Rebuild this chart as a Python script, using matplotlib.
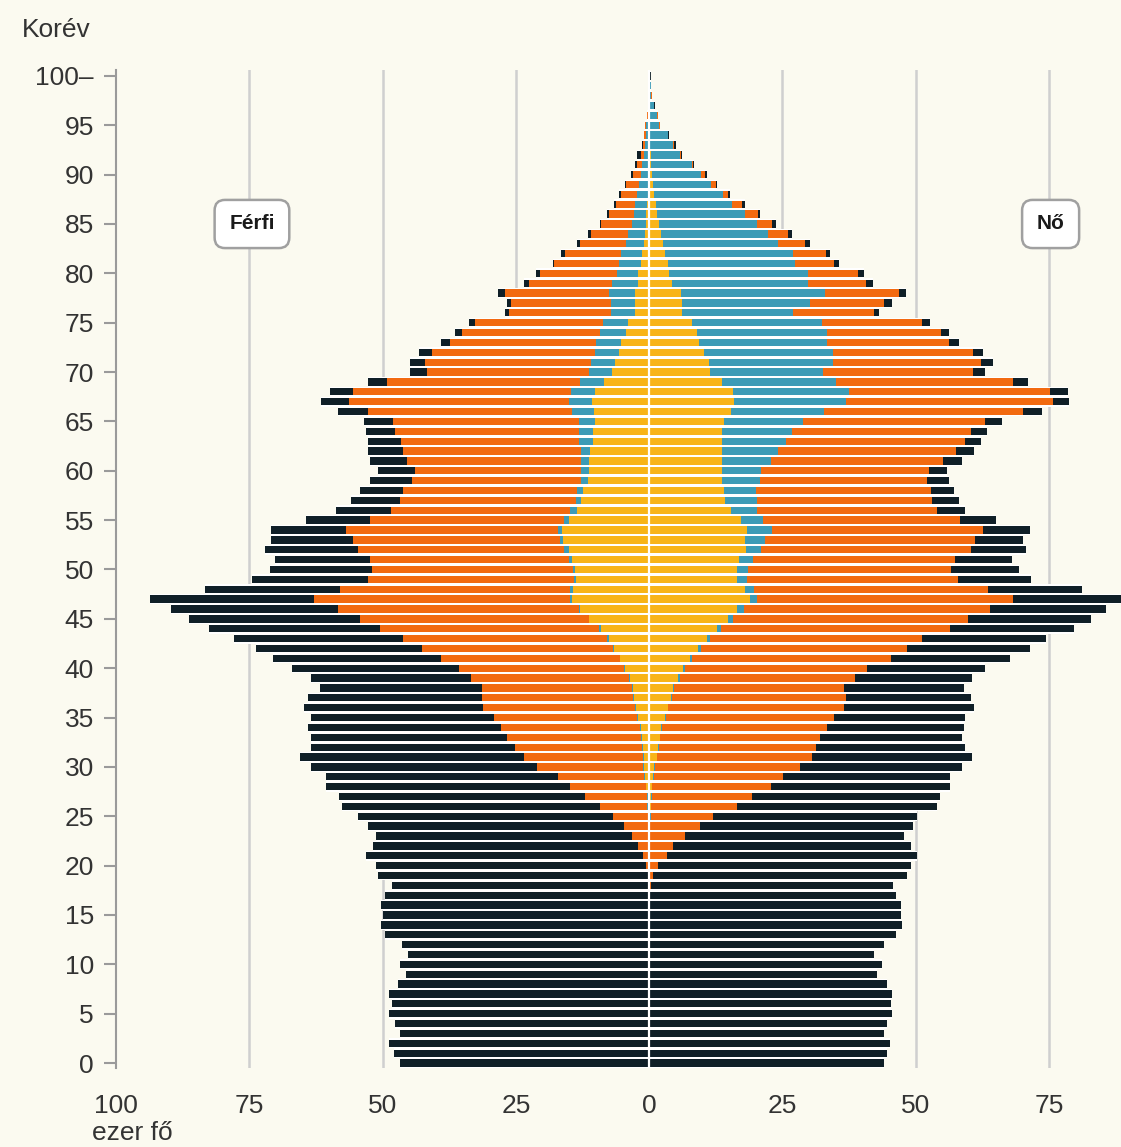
import numpy as np
import matplotlib
matplotlib.use('Agg')
import matplotlib.pyplot as plt

# Korév 0..100 (100 = 100 és több)
korev = list(range(0, 101))

# Férfiak, ezer fő - a rétegek külső szélei (kumulált értékek)
# összesen (nőtlen + házas + özvegy + elvált)
ferfi_osszes = [46.7, 47.9, 48.8, 46.7, 47.6, 48.8, 48.3, 48.8, 47.2, 45.7,
                46.7, 45.2, 46.3, 49.5, 50.3, 50.0, 50.3, 49.5, 48.3, 50.8,
                51.2, 53.2, 51.8, 51.2, 52.8, 54.7, 57.6, 58.2, 60.7, 60.7,
                63.5, 65.5, 63.5, 63.5, 63.9, 63.5, 64.7, 63.9, 61.8, 63.5,
                67.0, 70.6, 73.8, 77.8, 82.5, 86.3, 89.6, 93.6, 83.4, 74.5,
                71.2, 70.2, 72.0, 70.9, 70.9, 64.3, 58.7, 55.9, 54.3, 52.3,
                50.8, 52.4, 52.8, 52.8, 53.2, 53.5, 58.4, 61.6, 59.9, 52.8,
                44.9, 44.9, 43.2, 39.1, 36.4, 33.7, 27.0, 26.6, 28.4, 23.4,
                21.2, 18.1, 16.6, 13.5, 11.5, 9.3, 7.9, 6.6, 5.6, 4.6,
                3.4, 2.6, 2.2, 1.3, 1.0, 0.8, 0.4, 0.3, 0.2, 0.2, 0.2]
# házas + özvegy + elvált
ferfi_hazas = [0, 0, 0, 0, 0, 0, 0, 0, 0, 0,
               0, 0, 0, 0, 0, 0, 0, 0, 0.05, 0.3,
               0.5, 1.2, 2.0, 3.2, 4.8, 6.7, 9.2, 12.0, 14.8, 17.1,
               21.1, 23.4, 25.1, 26.6, 27.8, 29.1, 31.1, 31.4, 31.4, 33.4,
               35.7, 39.1, 42.6, 46.2, 50.5, 54.3, 58.4, 62.8, 57.9, 52.8,
               52.0, 52.4, 54.7, 55.6, 56.8, 52.3, 48.4, 46.7, 46.1, 44.5,
               43.9, 45.4, 46.1, 46.5, 47.7, 48.0, 52.8, 56.3, 55.6, 49.2,
               41.6, 42.1, 40.8, 37.3, 35.1, 32.6, 26.2, 25.9, 27.1, 22.5,
               20.4, 17.8, 15.8, 13.0, 11.0, 9.0, 7.6, 6.3, 5.3, 4.3,
               3.1, 2.3, 1.6, 1.1, 0.9, 0.7, 0.35, 0.25, 0.15, 0.15, 0.1]
# özvegy + elvált
ferfi_ozvegy = [0, 0, 0, 0, 0, 0, 0, 0, 0, 0,
                0, 0, 0, 0, 0, 0, 0, 0, 0, 0.05,
                0.1, 0.1, 0.15, 0.2, 0.2, 0.2, 0.4, 0.4, 0.6, 0.9,
                1.1, 1.1, 1.3, 1.5, 1.7, 2.2, 2.7, 3.0, 3.3, 3.8,
                4.7, 5.5, 6.7, 7.9, 9.5, 11.3, 13.2, 14.8, 14.8, 14.1,
                14.3, 15.1, 15.9, 16.8, 17.1, 15.9, 14.8, 13.8, 13.5, 12.8,
                12.8, 12.8, 12.8, 13.2, 13.2, 13.2, 14.5, 15.1, 14.7, 13.0,
                11.2, 10.9, 10.2, 10.0, 9.3, 8.6, 7.2, 7.2, 7.6, 6.9,
                6.1, 5.6, 5.3, 4.3, 3.9, 3.3, 2.9, 2.6, 2.3, 1.9,
                1.6, 1.3, 1.0, 0.7, 0.6, 0.5, 0.3, 0.2, 0.15, 0.1, 0.1]
# elvált
ferfi_elvalt = [0, 0, 0, 0, 0, 0, 0, 0, 0, 0,
                0, 0, 0, 0, 0, 0, 0, 0, 0, 0.05,
                0.1, 0.1, 0.15, 0.2, 0.2, 0.1, 0.3, 0.3, 0.5, 0.8,
                1.0, 1.0, 1.2, 1.4, 1.6, 2.1, 2.5, 2.8, 3.1, 3.6,
                4.5, 5.4, 6.6, 7.5, 9.1, 11.2, 13.0, 14.5, 14.3, 13.7,
                14.0, 14.5, 15.1, 16.1, 16.3, 15.1, 13.5, 12.8, 12.5, 11.5,
                11.3, 11.2, 11.1, 10.5, 10.5, 10.2, 10.4, 10.7, 10.2, 8.4,
                6.9, 6.4, 5.6, 5.3, 4.3, 3.9, 2.6, 2.6, 2.6, 2.0,
                2.0, 1.6, 1.3, 1.0, 0.8, 0.5, 0.5, 0.4, 0.3, 0.2,
                0.2, 0.1, 0.1, 0.05, 0.05, 0.05, 0.05, 0.05, 0.05, 0.05, 0.05]

# Nők, ezer fő
no_osszes = [44.0, 44.7, 45.2, 44.0, 44.7, 45.6, 45.3, 45.6, 44.7, 42.8,
             43.6, 42.1, 44.0, 46.3, 47.5, 47.2, 47.2, 46.3, 45.8, 48.3,
             49.1, 50.3, 49.1, 47.8, 49.4, 50.3, 53.9, 54.5, 56.5, 56.5,
             58.7, 60.6, 59.3, 58.7, 59.0, 59.3, 60.9, 60.3, 59.0, 60.6,
             62.9, 67.6, 71.4, 74.5, 79.6, 82.8, 85.7, 89.5, 81.1, 71.6,
             69.3, 68.1, 70.7, 70.2, 71.4, 65.0, 59.3, 58.1, 57.2, 56.2,
             55.9, 58.7, 61.0, 62.3, 63.4, 66.2, 73.7, 78.8, 78.5, 71.0,
             62.9, 64.5, 62.6, 58.1, 56.2, 52.7, 43.1, 45.5, 48.1, 41.9,
             40.3, 35.7, 34.0, 30.1, 26.8, 23.7, 20.7, 17.9, 15.1, 12.8,
             10.8, 8.5, 6.2, 5.0, 3.8, 2.1, 1.7, 1.1, 0.5, 0.4, 0.3]
no_hazas = [0, 0, 0, 0, 0, 0, 0, 0, 0, 0,
            0, 0, 0, 0, 0, 0, 0, 0, 0.3, 0.8,
            1.7, 3.3, 4.5, 6.8, 9.5, 12.0, 16.4, 19.2, 22.8, 25.1,
            28.2, 30.5, 31.3, 32.1, 33.4, 34.7, 36.6, 36.9, 36.6, 38.6,
            40.8, 45.3, 48.4, 51.2, 56.4, 59.8, 63.9, 68.2, 63.5, 57.9,
            56.7, 57.3, 60.3, 61.1, 62.6, 58.3, 54.0, 53.1, 52.8, 52.1,
            52.5, 55.2, 57.6, 59.2, 60.3, 62.9, 70.2, 75.7, 75.2, 68.2,
            60.8, 62.3, 60.8, 56.2, 54.7, 51.2, 42.1, 44.1, 46.9, 40.7,
            39.1, 34.7, 33.2, 29.3, 26.0, 23.0, 20.4, 17.5, 14.8, 12.6,
            10.5, 8.3, 6.0, 4.6, 3.6, 2.0, 1.6, 1.0, 0.45, 0.35, 0.25]
no_ozvegy = [0, 0, 0, 0, 0, 0, 0, 0, 0, 0,
             0, 0, 0, 0, 0, 0, 0, 0, 0, 0.05,
             0.1, 0.1, 0.15, 0.2, 0.2, 0.3, 0.4, 0.5, 0.6, 0.9,
             1.1, 1.5, 1.8, 2.1, 2.4, 3.1, 3.6, 4.2, 4.7, 5.8,
             6.8, 8.0, 9.7, 11.4, 13.5, 15.8, 17.8, 20.3, 19.7, 18.4,
             18.6, 19.5, 21.0, 21.8, 23.0, 21.4, 20.3, 20.3, 20.1, 20.7,
             21.0, 22.8, 24.2, 25.7, 26.8, 28.8, 32.8, 36.9, 37.5, 35.1,
             32.6, 34.4, 34.4, 33.4, 33.4, 32.5, 27.0, 30.2, 32.9, 29.8,
             29.8, 27.4, 27.0, 24.2, 22.2, 20.3, 17.9, 15.6, 13.8, 11.6,
             9.8, 8.0, 5.8, 4.4, 3.5, 1.9, 1.5, 0.9, 0.4, 0.3, 0.2]
no_elvalt = [0, 0, 0, 0, 0, 0, 0, 0, 0, 0,
             0, 0, 0, 0, 0, 0, 0, 0, 0, 0.05,
             0.1, 0.1, 0.15, 0.2, 0.2, 0.2, 0.3, 0.4, 0.5, 0.8,
             1.0, 1.4, 1.7, 2.0, 2.2, 3.0, 3.5, 4.1, 4.5, 5.5,
             6.4, 7.7, 9.1, 10.8, 12.8, 14.8, 16.4, 18.9, 17.9, 16.4,
             16.4, 16.8, 18.1, 17.9, 18.4, 17.3, 15.3, 14.3, 14.1, 13.7,
             13.7, 13.7, 13.7, 13.7, 13.7, 14.1, 15.3, 15.9, 15.8, 13.6,
             11.4, 11.3, 10.3, 9.3, 8.9, 8.0, 6.1, 6.1, 5.9, 4.3,
             3.8, 3.5, 2.9, 2.6, 2.2, 1.8, 1.5, 1.2, 0.9, 0.7,
             0.5, 0.4, 0.3, 0.2, 0.15, 0.1, 0.05, 0.05, 0.05, 0.05, 0.05]

xtick_pos = [-100, -75, -50, -25, 0, 25, 50, 75]
xtick_labels = ['100', '75', '50', '25', '0', '25', '50', '75']
ytick_pos = list(range(0, 101, 5))
ytick_labels = [str(v) for v in ytick_pos[:-1]] + ['100–']

# Színek
c_notlen = '#0f1f27'
c_hazas = '#f26a10'
c_ozvegy = '#3c9bb6'
c_elvalt = '#f8b418'
bg = '#fbfaf0'

plt.rcParams['font.family'] = ['Liberation Sans', 'DejaVu Sans']

fig = plt.figure(figsize=(11.21, 11.47), dpi=100, facecolor=bg)
ax = fig.add_axes([116 / 1121, 79 / 1147, 1005 / 1121, 998 / 1147])
ax.set_facecolor(bg)

y = np.array(korev)
h = 0.74

# fehér háttérsáv a sorok mögött
ax.barh(y, -np.array(ferfi_osszes), height=1.0, color='white', zorder=1)
ax.barh(y, no_osszes, height=1.0, color='white', zorder=1)

# rétegek kívülről befelé
for ertek, szin in [(ferfi_osszes, c_notlen), (ferfi_hazas, c_hazas),
                    (ferfi_ozvegy, c_ozvegy), (ferfi_elvalt, c_elvalt)]:
    ax.barh(y, -np.array(ertek), height=h, color=szin, linewidth=0, zorder=2)
for ertek, szin in [(no_osszes, c_notlen), (no_hazas, c_hazas),
                    (no_ozvegy, c_ozvegy), (no_elvalt, c_elvalt)]:
    ax.barh(y, ertek, height=h, color=szin, linewidth=0, zorder=2)

# rácsvonalak és középvonal
for gx in [-75, -50, -25, 25, 50, 75]:
    ax.axvline(gx, color='#cfcfcf', lw=1.8, zorder=0)
ax.axvline(0, color='white', lw=1.6, zorder=3)

ax.set_xlim(-100, 88.5)
ax.set_ylim(-0.5, 100.6)

ax.set_xticks(xtick_pos)
ax.set_xticklabels(xtick_labels, fontsize=19, color='#333333')
ax.tick_params(axis='x', length=0, pad=19)
ax.set_yticks(ytick_pos)
ax.set_yticklabels(ytick_labels, fontsize=19, color='#333333')
ax.tick_params(axis='y', length=9, width=1.5, color='#9a9a9a', pad=7)

for s in ['top', 'right', 'bottom']:
    ax.spines[s].set_visible(False)
ax.spines['left'].set_color('#9a9a9a')
ax.spines['left'].set_linewidth(1.5)

# Feliratok
fig.text(22 / 1121, 1 - 30 / 1147, 'Korév', fontsize=19, color='#333333',
         ha='left', va='center')
fig.text(92 / 1121, 1 - 1133 / 1147, 'ezer fő', fontsize=19, color='#333333',
         ha='left', va='center')

box = dict(boxstyle='round,pad=0.7,rounding_size=0.5', fc='white',
           ec='#a0a0a0', lw=1.8)
ax.text(-74.5, 85, 'Férfi', fontsize=15, fontweight='bold', color='#1a1a1a',
        ha='center', va='center', bbox=box, zorder=5)
ax.text(75.3, 85, 'Nő', fontsize=15, fontweight='bold', color='#1a1a1a',
        ha='center', va='center', bbox=box, zorder=5)

fig.savefig('out.png', dpi=100, facecolor=bg)
